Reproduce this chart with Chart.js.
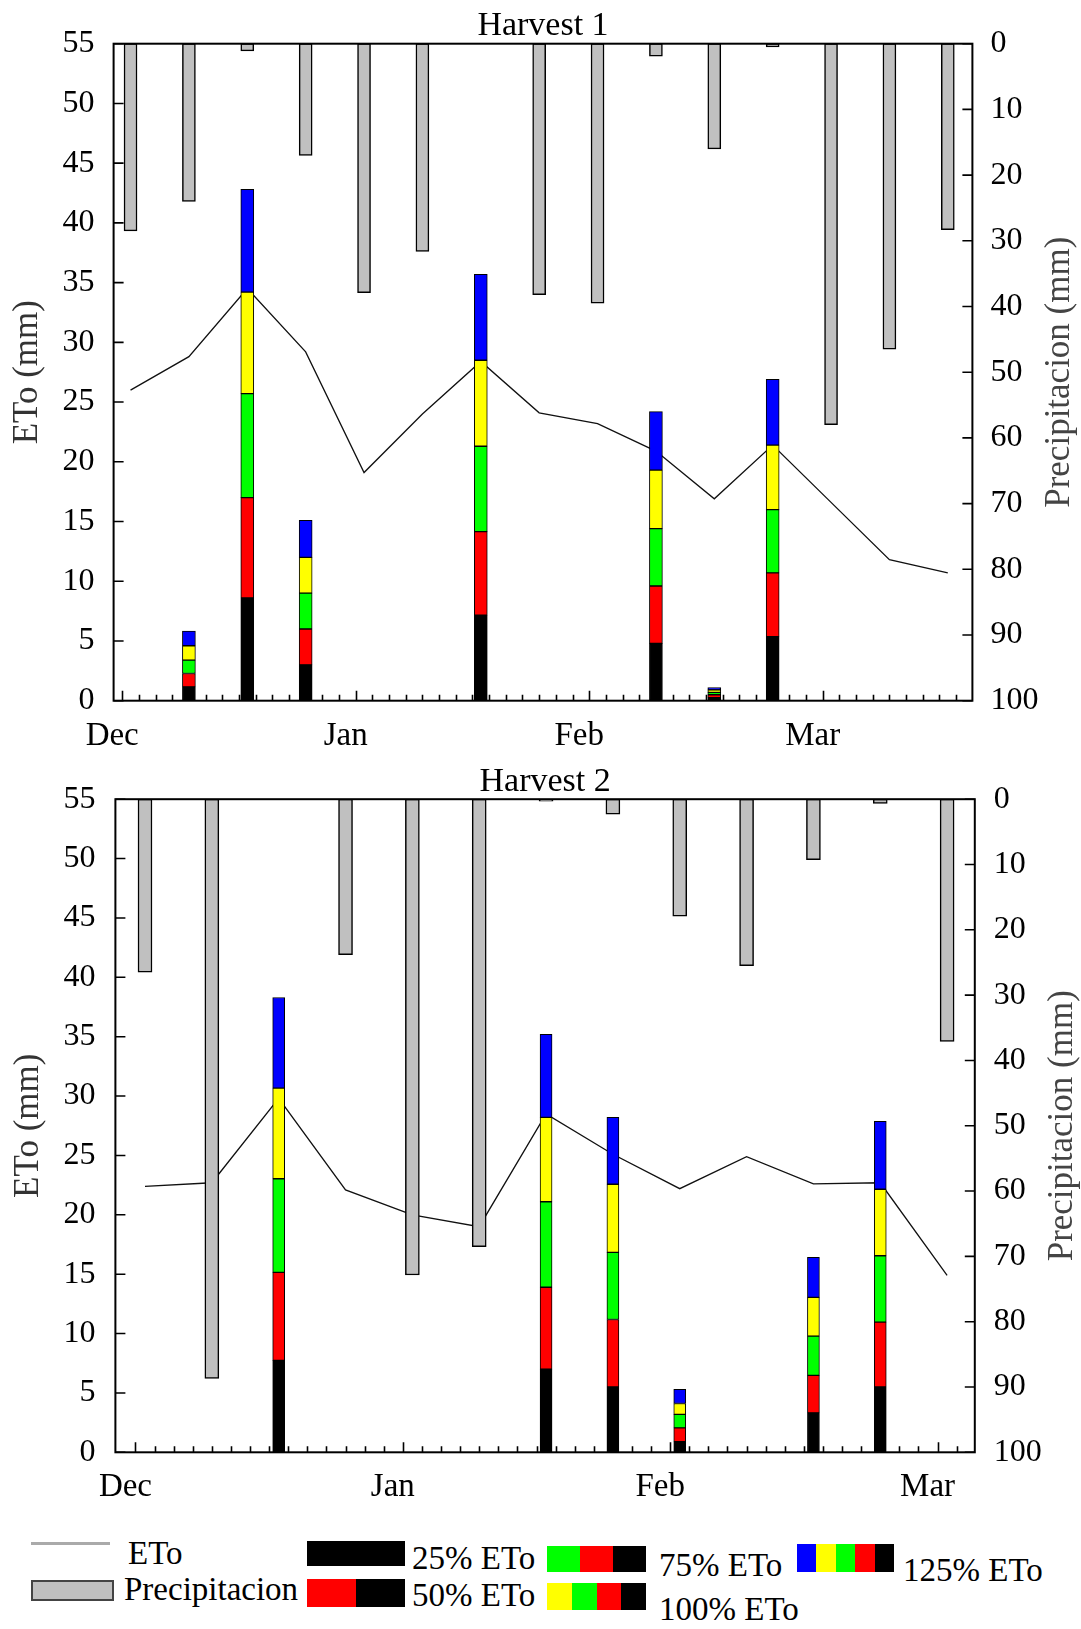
<!DOCTYPE html>
<html>
<head>
<meta charset="utf-8">
<script src="https://cdn.jsdelivr.net/npm/chart.js@4.4.1/dist/chart.umd.min.js"></script>
<style>
  body { margin: 0; background: #fff; width: 1081px; height: 1629px; position: relative; overflow: hidden;
         font-family: 'Liberation Serif', 'Times New Roman', serif; }
  canvas { position: absolute; left: 0; }
  #c1 { top: 0; }
  #c2 { top: 760px; }
  .lgText { position: absolute; font-size: 33px; line-height: 1; color: #000; white-space: nowrap; }
  .sw { position: absolute; display: flex; }
  .sw span { flex: 1; height: 100%; }
</style>
</head>
<body>
<canvas id="c1" width="1081" height="760"></canvas>
<canvas id="c2" width="1081" height="740"></canvas>
<div id="legend"></div>
<script>
const FONT = "'Liberation Serif', 'Times New Roman', serif";

// x positions are days counted from the "Dec" tick, one value per week
const weekDays1 = [1, 8, 15, 22, 29, 36, 43, 50, 57, 64, 71, 78, 85, 92, 99];
const weekDays2 = [1, 8, 15, 22, 29, 36, 43, 50, 57, 64, 71, 78, 85];
const monthNames = ['Dec', 'Jan', 'Feb', 'Mar'];
const monthDays = [0, 28, 56, 84];

// Harvest 1
const eto1 = [26.0, 28.8, 34.5, 29.2, 19.1, 24.0, 28.4, 24.1, 23.2, 20.9, 16.9, 21.4, 16.6, 11.8, 10.7];
const precip1 = [28.5, 24.0, 1.1, 17.0, 37.9, 31.6, null, 38.2, 39.5, 1.9, 16.0, 0.5, 58.0, 46.5, 28.3];
const irrDays1 = [8, 15, 22, 43, 64, 71, 78];
const irr25_1 = [1.16, 8.6, 3.0, 7.15, 4.8, 0.25, 5.35];
const irr50_1 = [2.28, 17.0, 6.0, 14.15, 9.6, 0.5, 10.7];
const irr75_1 = [3.4, 25.7, 9.0, 21.3, 14.4, 0.7, 16.0];
const irr100_1 = [4.6, 34.2, 12.0, 28.5, 19.3, 0.9, 21.4];
const irr125_1 = [5.83, 42.8, 15.1, 35.7, 24.2, 1.1, 26.9];

// Harvest 2
const eto2 = [22.4, 22.7, 29.8, 22.1, 20.0, 19.0, 28.5, 25.1, 22.2, 24.9, 22.6, 22.7, 14.9];
const precip2 = [26.5, 88.7, null, 23.8, 72.85, 68.5, 0.3, 2.3, 17.9, 25.5, 9.25, 0.65, 37.1];
const irrDays2 = [15, 43, 50, 57, 71, 78];
const irr25_2 = [7.74, 7.0, 5.5, 0.89, 3.32, 5.5];
const irr50_2 = [15.15, 13.9, 11.18, 2.06, 6.48, 10.96];
const irr75_2 = [23.04, 21.1, 16.83, 3.2, 9.78, 16.55];
const irr100_2 = [30.67, 28.2, 22.57, 4.11, 13.05, 22.15];
const irr125_2 = [38.3, 35.2, 28.2, 5.31, 16.41, 27.87];

const levelNames = ['25% ETo', '50% ETo', '75% ETo', '100% ETo', '125% ETo'];
const levelColors = ['#000000', '#ff0000', '#00ff00', '#ffff00', '#0000ff'];

// stacked irrigation bars drawn as floating segments [previous level, this level]
function irrigationSets(days, levels, thick) {
    return levels.map((tops, k) => ({
        type: 'bar',
        label: levelNames[k],
        yAxisID: 'y',
        order: 1,
        grouped: false,
        data: days.map((d, i) => ({ x: d, y: [k === 0 ? 0 : levels[k - 1][i], tops[i]] })),
        backgroundColor: levelColors[k],
        borderColor: '#000',
        borderWidth: 1,
        borderSkipped: false,
        barThickness: thick
    }));
}

// frame, inward ticks, title and axis titles
const framePlugin = {
    id: 'frame',
    afterDraw(chart, args, opts) {
        const { ctx, chartArea: a, scales } = chart;
        ctx.save();
        ctx.strokeStyle = '#000';
        ctx.lineWidth = 1.6;
        ctx.beginPath();
        scales.x.ticks.forEach(t => {
            const px = Math.round(scales.x.getPixelForValue(t.value)) + 0.5;
            ctx.moveTo(px, a.bottom);
            ctx.lineTo(px, a.bottom - (t.label ? 10 : 6));
        });
        scales.y.ticks.forEach(t => {
            const py = scales.y.getPixelForValue(t.value);
            ctx.moveTo(a.left, py);
            ctx.lineTo(a.left + 10, py);
        });
        scales.y2.ticks.forEach(t => {
            const py = scales.y2.getPixelForValue(t.value);
            ctx.moveTo(a.right, py);
            ctx.lineTo(a.right - 10, py);
        });
        ctx.stroke();
        ctx.lineWidth = 2;
        ctx.strokeRect(a.left, a.top, a.right - a.left, a.bottom - a.top);

        ctx.fillStyle = '#000';
        ctx.font = '34px ' + FONT;
        ctx.textAlign = 'center';
        ctx.textBaseline = 'alphabetic';
        ctx.fillText(opts.title, (a.left + a.right) / 2, a.top - 8.5);

        const midY = (a.top + a.bottom) / 2;
        ctx.font = '35px ' + FONT;
        ctx.fillStyle = '#333';
        ctx.save();
        ctx.translate(a.left - 77, midY);
        ctx.rotate(-Math.PI / 2);
        ctx.fillText('ETo (mm)', 0, 0);
        ctx.restore();
        ctx.fillStyle = '#444';
        ctx.save();
        ctx.translate(a.right + 97, midY);
        ctx.rotate(-Math.PI / 2);
        ctx.fillText('Precipitacion (mm)', 0, 0);
        ctx.restore();
        ctx.restore();
    }
};

function buildChart(id, cfg) {
    const minorDays = [];
    for (let d = 0; d <= cfg.lastTick; d += 2) minorDays.push(d);

    const datasets = [
        ...irrigationSets(cfg.irrDays, cfg.levels, cfg.irrThick),
        {
            type: 'bar',
            label: 'Precipitacion',
            yAxisID: 'y2',
            order: 2,
            grouped: false,
            data: cfg.weekDays.map((d, i) => ({ x: d, y: cfg.precip[i] })),
            backgroundColor: '#c0c0c0',
            borderColor: '#000',
            borderWidth: 1.5,
            borderSkipped: false,
            barThickness: cfg.precipThick
        },
        {
            type: 'line',
            label: 'ETo',
            yAxisID: 'y',
            order: 10,
            data: cfg.weekDays.map((d, i) => ({ x: d, y: cfg.eto[i] })),
            borderColor: '#111',
            borderWidth: 1.3,
            pointRadius: 0,
            tension: 0,
            fill: false
        }
    ];

    return new Chart(document.getElementById(id), {
        type: 'bar',
        data: { datasets },
        options: {
            responsive: false,
            animation: false,
            layout: { padding: { top: cfg.top, left: 0, right: 0, bottom: 0 } },
            plugins: {
                legend: { display: false },
                tooltip: { enabled: false },
                frame: { title: cfg.title }
            },
            scales: {
                x: {
                    type: 'linear',
                    min: cfg.xMin,
                    max: cfg.xMax,
                    offset: false,
                    afterBuildTicks: s => { s.ticks = minorDays.map(v => ({ value: v })); },
                    ticks: {
                        autoSkip: false, maxRotation: 0, minRotation: 0,
                        padding: cfg.xPad, labelOffset: -10, color: '#000',
                        font: { family: FONT, size: 33 },
                        callback: v => {
                            const k = monthDays.indexOf(v);
                            return k >= 0 ? monthNames[k] : '';
                        }
                    },
                    grid: { display: false, drawTicks: false, offset: false },
                    border: { display: false },
                    afterFit: s => { s.height = cfg.xH; }
                },
                y: {
                    type: 'linear', position: 'left', min: 0, max: 55,
                    ticks: { stepSize: 5, padding: cfg.yPad, color: '#000', font: { family: FONT, size: 32 } },
                    grid: { display: false, drawTicks: false },
                    border: { display: false },
                    afterFit: s => { s.width = cfg.leftW; }
                },
                y2: {
                    type: 'linear', position: 'right', reverse: true, min: 0, max: 100,
                    ticks: { stepSize: 10, padding: cfg.y2Pad, color: '#000', font: { family: FONT, size: 32 } },
                    grid: { display: false, drawTicks: false },
                    border: { display: false },
                    afterFit: s => { s.width = cfg.rightW; }
                }
            }
        },
        plugins: [framePlugin]
    });
}

buildChart('c1', {
    title: 'Harvest 1',
    weekDays: weekDays1, eto: eto1, precip: precip1,
    irrDays: irrDays1, levels: [irr25_1, irr50_1, irr75_1, irr100_1, irr125_1],
    irrThick: 13, precipThick: 13,
    xMin: -1.03, xMax: 101.95, lastTick: 100,
    top: 43.7, xH: 59.3, leftW: 113.6, rightW: 108.6,
    xPad: 16, yPad: 19, y2Pad: 18
});

buildChart('c2', {
    title: 'Harvest 2',
    weekDays: weekDays2, eto: eto2, precip: precip2,
    irrDays: irrDays2, levels: [irr25_2, irr50_2, irr75_2, irr100_2, irr125_2],
    irrThick: 12, precipThick: 14,
    xMin: -2.1, xMax: 87.9, lastTick: 86,
    top: 36.7, xH: 47.7, leftW: 115.4, rightW: 106.2,
    xPad: 15, yPad: 20, y2Pad: 19
});

// legend below the charts
const legend = document.getElementById('legend');
function addText(txt, x, top) {
    const d = document.createElement('div');
    d.className = 'lgText';
    d.style.left = x + 'px';
    d.style.top = top + 'px';
    d.textContent = txt;
    legend.appendChild(d);
}
function addSwatch(colors, x, y, w, h, border) {
    const d = document.createElement('div');
    d.className = 'sw';
    Object.assign(d.style, { left: x + 'px', top: y + 'px', width: w + 'px', height: h + 'px' });
    if (border) d.style.border = border;
    colors.forEach(c => {
        const s = document.createElement('span');
        s.style.background = c;
        d.appendChild(s);
    });
    legend.appendChild(d);
}

addSwatch(['#aaaaaa'], 31, 1542, 79, 3);
addText('ETo', 128, 1537);
addSwatch(['#c0c0c0'], 31, 1580, 79, 17, '2px solid #444');
addText('Precipitacion', 124, 1573);

const swatchBoxes = [
    { x: 307, y: 1541, w: 98, h: 25, tx: 412, ty: 1542 },
    { x: 307, y: 1579, w: 98, h: 28, tx: 412, ty: 1579 },
    { x: 547, y: 1546, w: 99, h: 26, tx: 659, ty: 1549 },
    { x: 547, y: 1583, w: 99, h: 27, tx: 659, ty: 1593 },
    { x: 797, y: 1544, w: 97, h: 28, tx: 903, ty: 1554 }
];
swatchBoxes.forEach((b, k) => {
    const cols = levelColors.slice(0, k + 1).reverse();
    addSwatch(cols, b.x, b.y, b.w, b.h);
    addText(levelNames[k], b.tx, b.ty);
});
</script>
</body>
</html>
